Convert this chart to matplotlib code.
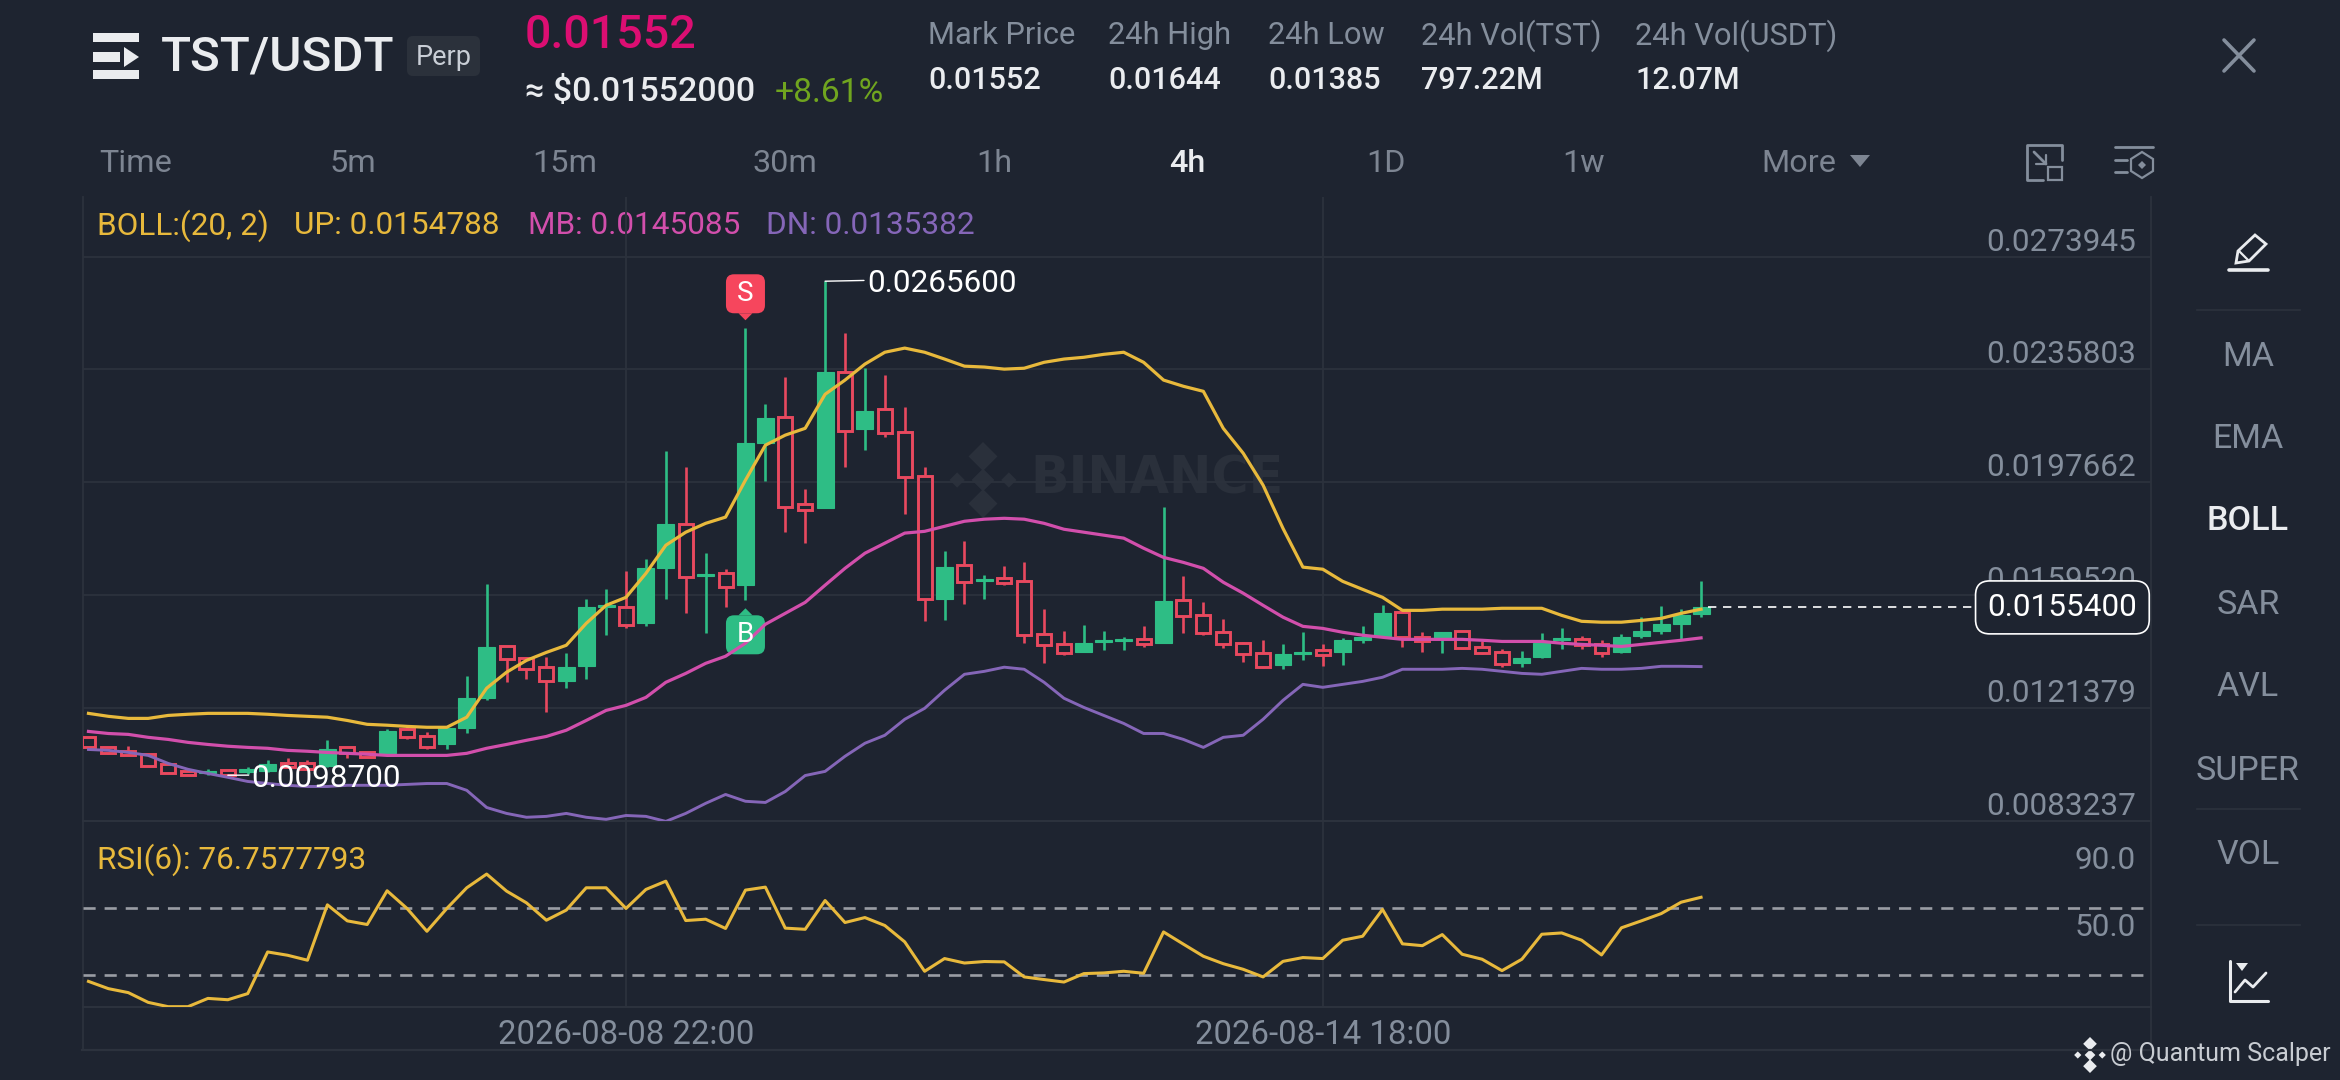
import numpy as np
import matplotlib
matplotlib.use("Agg")
import matplotlib.pyplot as plt
from matplotlib.patches import FancyBboxPatch, Polygon, Rectangle
from matplotlib.transforms import ScaledTranslation

plt.rcParams['font.family'] = ['Roboto', 'DejaVu Sans']

# prices are kept in units of 0.00001 USDT
PRICE_UNIT = 1e-5

opens = [1115, 1081, 1068, 1058, 1024, 1000, 993, 1003, 997, 1000,
         1027, 1027, 1017, 1081, 1064, 1061, 1142, 1118, 1091, 1145,
         1247, 1422, 1382, 1352, 1304, 1355, 1554, 1554, 1500, 1686,
         1835, 1659, 1669, 1629, 2109, 2197, 1902, 1889, 2349, 2156,
         2224, 2146, 1997, 1581, 1696, 1642, 1652, 1642, 1463, 1429,
         1402, 1436, 1440, 1446, 1433, 1578, 1527, 1470, 1433, 1399,
         1358, 1396, 1409, 1402, 1443, 1456, 1537, 1453, 1450, 1473,
         1419, 1402, 1365, 1385, 1443, 1446, 1429, 1402, 1456, 1473,
         1497, 1531]
closes = [1081, 1061, 1054, 1017, 993, 988, 1000, 987, 1007, 1024,
          1014, 1007, 1074, 1061, 1047, 1135, 1115, 1084, 1145, 1247,
          1419, 1379, 1345, 1304, 1352, 1554, 1561, 1494, 1686, 1835,
          1656, 1666, 1622, 2109, 2193, 1892, 1882, 2349, 2149, 2217,
          2142, 1994, 1581, 1690, 1639, 1649, 1635, 1460, 1426, 1399,
          1433, 1443, 1446, 1429, 1575, 1524, 1466, 1429, 1396, 1352,
          1396, 1402, 1392, 1443, 1453, 1534, 1453, 1440, 1470, 1416,
          1399, 1362, 1382, 1433, 1450, 1426, 1399, 1453, 1473, 1497,
          1527, 1554]
highs = [1115, 1081, 1085, 1058, 1024, 1000, 1007, 1003, 1014, 1037,
         1044, 1037, 1105, 1081, 1064, 1142, 1152, 1132, 1149, 1321,
         1632, 1422, 1385, 1385, 1399, 1581, 1615, 1676, 1717, 2082,
         2028, 1737, 1683, 2497, 2240, 2332, 1953, 2656, 2480, 2362,
         2338, 2230, 2028, 1744, 1777, 1663, 1693, 1706, 1548, 1473,
         1494, 1473, 1453, 1490, 1892, 1659, 1571, 1514, 1436, 1443,
         1429, 1470, 1429, 1450, 1490, 1561, 1537, 1470, 1470, 1473,
         1439, 1412, 1406, 1466, 1483, 1456, 1443, 1463, 1521, 1558,
         1548, 1642]
lows = [1078, 1058, 1054, 1017, 993, 988, 988, 987, 990, 997,
        1010, 1003, 1014, 1044, 1047, 1061, 1108, 1074, 1074, 1128,
        1240, 1301, 1311, 1199, 1281, 1311, 1460, 1483, 1490, 1581,
        1534, 1466, 1554, 1578, 1980, 1808, 1771, 1889, 2028, 2085,
        2129, 1869, 1507, 1510, 1564, 1581, 1629, 1433, 1365, 1392,
        1402, 1409, 1409, 1419, 1433, 1466, 1460, 1416, 1368, 1348,
        1345, 1375, 1355, 1358, 1433, 1453, 1419, 1402, 1399, 1412,
        1395, 1352, 1352, 1382, 1412, 1412, 1385, 1399, 1450, 1463,
        1446, 1521]

boll_up = [1196, 1186, 1179, 1179, 1189, 1193, 1196, 1196, 1196, 1193,
           1189, 1186, 1183, 1172, 1159, 1156, 1152, 1149, 1149, 1183,
           1281, 1335, 1375, 1402, 1426, 1500, 1561, 1588, 1669, 1764,
           1808, 1838, 1859, 1984, 2102, 2136, 2159, 2274, 2322, 2376,
           2416, 2430, 2416, 2393, 2369, 2366, 2359, 2362, 2382, 2393,
           2399, 2409, 2416, 2382, 2322, 2301, 2284, 2159, 2075, 1967,
           1821, 1690, 1683, 1642, 1615, 1588, 1544, 1544, 1548, 1548,
           1548, 1551, 1551, 1551, 1527, 1507, 1504, 1504, 1510, 1517,
           1534, 1548]
boll_mb = [1135, 1128, 1125, 1115, 1108, 1098, 1091, 1085, 1081, 1078,
           1071, 1068, 1064, 1061, 1058, 1054, 1054, 1054, 1054, 1061,
           1078, 1091, 1105, 1118, 1139, 1172, 1206, 1223, 1250, 1301,
           1331, 1365, 1389, 1433, 1497, 1534, 1571, 1629, 1686, 1737,
           1771, 1805, 1811, 1828, 1845, 1852, 1855, 1852, 1838, 1818,
           1808, 1798, 1788, 1754, 1723, 1706, 1686, 1639, 1602, 1561,
           1521, 1490, 1483, 1470, 1460, 1453, 1446, 1446, 1446, 1446,
           1443, 1439, 1439, 1439, 1433, 1429, 1426, 1422, 1429, 1436,
           1443, 1451]
boll_dn = [1074, 1071, 1064, 1054, 1027, 1007, 993, 980, 966, 959,
           953, 949, 949, 953, 953, 953, 956, 959, 959, 936,
           878, 858, 845, 848, 858, 845, 838, 851, 848, 831,
           858, 892, 922, 899, 895, 932, 986, 1000, 1051, 1095,
           1122, 1176, 1213, 1274, 1328, 1338, 1352, 1345, 1301, 1247,
           1216, 1189, 1162, 1128, 1128, 1108, 1081, 1115, 1122, 1176,
           1240, 1294, 1284, 1294, 1304, 1318, 1345, 1345, 1345, 1348,
           1345, 1338, 1331, 1328, 1338, 1348, 1345, 1345, 1348, 1355,
           1355, 1354]
rsi = [25.9, 21.5, 19.1, 13.2, 10.6, 10.6, 15.6, 14.8, 18.5, 43.7,
       41.7, 38.7, 72.2, 62.5, 60.3, 80.7, 70.0, 56.2, 70.0, 82.5,
       90.8, 80.5, 73.4, 62.9, 69.0, 82.5, 82.5, 70.0, 81.5, 86.5,
       62.7, 63.5, 57.9, 81.1, 82.9, 58.1, 57.4, 74.8, 61.5, 64.5,
       59.7, 49.8, 32.0, 39.7, 37.0, 37.9, 37.7, 28.6, 27.0, 25.5,
       30.6, 31.0, 32.0, 30.8, 55.8, 48.4, 41.1, 36.6, 33.2, 28.6,
       38.0, 40.3, 39.7, 50.8, 53.2, 69.4, 48.6, 47.5, 54.2, 42.3,
       39.3, 32.4, 39.3, 54.4, 55.2, 50.8, 41.9, 58.3, 62.5, 66.9,
       73.8, 76.76]

price_ticks = [0.0273945, 0.0235803, 0.0197662, 0.0159520, 0.0121379, 0.0083237]
rsi_ticks = [90.0, 50.0]
rsi_levels = [70, 30]
time_tick_idx = [27, 62]
time_tick_labels = ['2026-08-08 22:00', '2026-08-14 18:00']
high_idx, low_idx = 37, 7
signal_idx = 33

tabs = ['Time', '5m', '15m', '30m', '1h', '4h', '1D', '1w', 'More']
stat_names = ['Mark Price', '24h High', '24h Low', '24h Vol(TST)', '24h Vol(USDT)']
stat_values = ['0.01552', '0.01644', '0.01385', '797.22M', '12.07M']
side_items = ['MA', 'EMA', 'BOLL', 'SAR', 'AVL', 'SUPER', 'VOL']

BG = '#1e2430'
GRID = '#2c323d'
GREY = '#848e9c'
WHITE = '#eaecef'
GREEN = '#2ebd85'
RED = '#e8495f'
YELLOW = '#e8b93c'
PINK = '#d24fac'
PURPLE = '#8566b8'
AXIS_FONT = 22.7

W, H = 2340, 1080
fig = plt.figure(figsize=(W / 100, H / 100), dpi=100, facecolor=BG)


def px_axes(x0, y0, x1, y1):
    """Axes from pixel bounds, y counted from the top of the picture"""
    return fig.add_axes([x0 / W, 1 - y1 / H, (x1 - x0) / W, (y1 - y0) / H])


# the layer under the charts holds the app chrome, in pixel coordinates
ui = px_axes(0, 0, W, H)
ui.set_xlim(0, W)
ui.set_ylim(H, 0)
ui.axis('off')
ui.set_zorder(0)


def label(x, y, s, size=AXIS_FONT, color=GREY, ha='left', weight='normal', **kw):
    return ui.text(x, y + 2.5, s, fontsize=size, color=color, ha=ha, va='center', fontweight=weight, **kw)


def stroke(xs, ys, color=GREY, lw=2.2, **kw):
    ui.plot(xs, ys, color=color, lw=lw, solid_capstyle='round', **kw)


def bn_logo(cx, cy, r, color):
    for dx, dy, s in [(0, 0, .3), (-.68, 0, .2), (.68, 0, .2), (0, -.62, .38), (0, .62, .38)]:
        size = r * s
        x, y = cx + dx * r, cy + dy * r
        ui.add_patch(Polygon([(x - size, y), (x, y - size), (x + size, y), (x, y + size)],
                             closed=True, fc=color, ec='none'))


# header
for y0, y1, x1 in [(33, 42, 139), (52, 62, 120), (70, 79, 139)]:
    ui.add_patch(Rectangle((93, y0), x1 - 93, y1 - y0, fc=WHITE, ec='none'))
ui.add_patch(Polygon([(124, 47), (139, 57), (124, 67)], closed=True, fc=WHITE, ec='none'))
label(161, 55, 'TST/USDT', size=35.6, color=WHITE, weight='medium')
ui.add_patch(FancyBboxPatch((407, 36), 73, 40, boxstyle='round,pad=0,rounding_size=6', fc='#2b313b', ec='none'))
label(443.5, 55, 'Perp', size=19.5, color='#c9ced6', ha='center')
label(525, 32, '0.01552', size=33.5, color='#dc0e72', weight='medium')
label(525, 90, '≈ $0.01552000', size=24.5, color=WHITE, weight='medium')
label(775, 90, '+8.61%', size=24.2, color='#70a51f')

for x, name, value in zip([928, 1108, 1268, 1421, 1635], stat_names, stat_values):
    label(x, 33, name, size=22.2)
    label(x, 78, value, size=22, color=WHITE, weight='medium')

for x, tab in zip([136, 353, 565, 785, 994, 1187, 1386, 1584, 1799], tabs):
    active = tab == '4h'
    label(x, 161, tab, size=23.3, ha='center', color=WHITE if active else '#7d8592',
          weight='medium' if active else 'normal')
ui.add_patch(Polygon([(1850, 155), (1870, 155), (1860, 167)], closed=True, fc='#7d8592', ec='none'))

# chart frame lines that run down through the time strip
for x in [82.5, 2151]:
    ui.plot([x, x], [197, 1050], color=GRID, lw=1.3)
ui.plot([82, 2151], [1050, 1050], color=GRID, lw=1.6)

label(97, 223, 'BOLL:(20, 2)', color=YELLOW)
label(294, 223, 'UP: 0.0154788', color=YELLOW)
label(528, 223, 'MB: 0.0145085', color=PINK)
label(766, 223, 'DN: 0.0135382', color=PURPLE)
label(97, 857, 'RSI(6): 76.7577793', color=YELLOW)

# faint watermark
ui.text(1030, 480, 'BINANCE', fontsize=36.5, fontweight='bold', color='#2a303b',
        family='DejaVu Sans', va='center', ha='left')
bn_logo(983, 480, 38, '#2a303b')

# close button and the two small toolbar icons
stroke([2224, 2254], [40, 71], lw=2.6)
stroke([2254, 2224], [40, 71], lw=2.6)
stroke([2043, 2027, 2027, 2062, 2062], [180, 180, 145, 145, 160], lw=2)
ui.add_patch(Rectangle((2048, 167), 14, 13, fc='none', ec=GREY, lw=1.6))
stroke([2034, 2046], [152, 164], lw=2)
stroke([2036, 2046, 2046], [164, 164, 155], lw=1.6)
stroke([2115, 2153], [147, 147], lw=2)
stroke([2115, 2127], [160, 160], lw=2)
stroke([2115, 2127], [172, 172], lw=2)
ui.add_patch(Polygon([(2142, 152), (2153, 159), (2153, 171), (2142, 178), (2131, 171), (2131, 159)],
                     closed=True, fc='none', ec=GREY, lw=1.6))
ui.add_patch(Polygon([(2142, 161), (2146, 165), (2142, 169), (2138, 165)], closed=True, fc=GREY, ec='none'))

# side panel
stroke([2229, 2268], [270, 270], color=WHITE, lw=2.6)
ui.add_patch(Polygon([(2236, 263), (2238, 251), (2255, 235), (2266, 244), (2249, 261)],
                     closed=True, fc='none', ec=WHITE, lw=2))
stroke([2239, 2248], [251, 260], color=WHITE, lw=1.6)
for y, item in zip([354, 437, 519, 602, 685, 769, 852], side_items):
    active = item == 'BOLL'
    label(2248, y, item, size=24.5, ha='center', color=WHITE if active else GREY,
          weight='medium' if active else 'normal')
for y in [310, 809, 925]:
    ui.plot([2197, 2300], [y, y], color=GRID, lw=1.2)
stroke([2230, 2230, 2268], [961, 1001, 1001], color=WHITE, lw=2.2)
stroke([2235, 2245, 2253, 2266], [992, 980, 987, 973], color=WHITE, lw=2)
ui.add_patch(Polygon([(2236, 963), (2248, 963), (2242, 971)], closed=True, fc=WHITE, ec='none'))

# footer credit
bn_logo(2090, 1055, 18, WHITE)
label(2110, 1052, '@ Quantum Scalper', size=18, color='#c8ccd2')

# price chart
idx = np.arange(len(closes))
o = np.array(opens) * PRICE_UNIT
c = np.array(closes) * PRICE_UNIT
h = np.array(highs) * PRICE_UNIT
l = np.array(lows) * PRICE_UNIT
rising = c >= o
body_top = np.maximum(o, c)
body_bottom = np.minimum(o, c)

x_range = (-0.3, 103.6)

ax = px_axes(82.5, 197, 2151, 821)
ax.set_xlim(*x_range)
ax.set_ylim(0.0083237, 0.029405)
ax.set_zorder(1)
ax.patch.set_alpha(0)
ax.set_axisbelow(True)
ax.grid(True, color=GRID, lw=1.3)
for name in ['top', 'left', 'right']:
    ax.spines[name].set_visible(False)
ax.spines['bottom'].set_color(GRID)
ax.spines['bottom'].set_linewidth(1.5)
ax.set_xticks(time_tick_idx)
ax.set_yticks(price_ticks)
ax.set_yticklabels(['%.7f' % t for t in price_ticks])
ax.tick_params(axis='x', length=0, labelbottom=False)
ax.tick_params(axis='y', length=0, labelleft=False, labelright=True, pad=-11, labelsize=AXIS_FONT, labelcolor=GREY)
for tick in ax.get_yticklabels():
    tick.set_ha('right')
    tick.set_va('bottom')

ax.vlines(idx[rising], h[rising], body_top[rising], color=GREEN, lw=1.9, zorder=2)
ax.vlines(idx[rising], body_bottom[rising], l[rising], color=GREEN, lw=1.9, zorder=2)
ax.vlines(idx[~rising], h[~rising], body_top[~rising], color=RED, lw=1.9, zorder=2)
ax.vlines(idx[~rising], body_bottom[~rising], l[~rising], color=RED, lw=1.9, zorder=2)
ax.bar(idx[rising], (c - o)[rising], bottom=o[rising], width=0.85, color=GREEN, edgecolor=GREEN, lw=0.8, zorder=3)
ax.bar(idx[~rising], (o - c)[~rising], bottom=c[~rising], width=0.7, facecolor='none', edgecolor=RED, lw=2.1, zorder=3)

for series, color, lw in [(boll_up, YELLOW, 2.3), (boll_mb, PINK, 2.3), (boll_dn, PURPLE, 2.1)]:
    ax.plot(idx, np.array(series) * PRICE_UNIT, color=color, lw=lw, zorder=5, solid_joinstyle='round')


def signal_tag(idx_at, price, letter, color, sign):
    # drawn in inches around the candle end, so it stays tied to the data
    trans = fig.dpi_scale_trans + ScaledTranslation(idx_at, price, ax.transData)
    near, far = 0.15, 0.54
    y0 = near if sign > 0 else -far
    ax.add_patch(FancyBboxPatch((-0.195, y0), 0.39, far - near, boxstyle='round,pad=0,rounding_size=0.08',
                                fc=color, ec='none', transform=trans, zorder=4))
    ax.add_patch(Polygon([(-0.07, sign * near), (0, sign * 0.08), (0.07, sign * near)], closed=True,
                         fc=color, ec='none', transform=trans, zorder=4))
    ax.text(0, sign * (near + far) / 2, letter, color='white', fontsize=20, ha='center', va='center',
            transform=trans, zorder=6)


signal_tag(signal_idx, h[signal_idx], 'S', '#f6465d', 1)
signal_tag(signal_idx, l[signal_idx], 'B', GREEN, -1)

ax.annotate('%.7f' % h[high_idx], xy=(high_idx, h[high_idx]), xytext=(30, -1.5), textcoords='offset points',
            color='white', fontsize=AXIS_FONT, va='center', zorder=7,
            arrowprops=dict(arrowstyle='-', color='white', lw=1, shrinkA=0, shrinkB=0, relpos=(0, 0.6)))
ax.annotate('%.7f' % l[low_idx], xy=(low_idx, l[low_idx]), xytext=(17, -2), textcoords='offset points',
            color='white', fontsize=AXIS_FONT, va='center', zorder=7,
            arrowprops=dict(arrowstyle='-', color='white', lw=1, shrinkA=0, shrinkB=0, relpos=(0, 0.6)))

# last price line and its tag
last = c[-1]
ax.plot([idx[-1] + 0.35, 94.7], [last, last], color='white', lw=1.2, dashes=(5, 4), zorder=5)
ax.text(99.15, last, '%.7f' % last, color='white', fontsize=AXIS_FONT, ha='center', va='center', zorder=8,
        bbox=dict(boxstyle='round,pad=0.38,rounding_size=0.45', fc=BG, ec='white', lw=1.2))

# RSI panel
ax2 = px_axes(82.5, 821, 2151, 1007)
ax2.set_xlim(*x_range)
ax2.set_ylim(10.4, 122.9)
ax2.set_zorder(1)
ax2.patch.set_alpha(0)
ax2.set_axisbelow(True)
ax2.grid(True, axis='x', color=GRID, lw=1.3)
for name in ['top', 'left', 'right']:
    ax2.spines[name].set_visible(False)
ax2.spines['bottom'].set_color(GRID)
ax2.spines['bottom'].set_linewidth(1.5)
ax2.set_xticks(time_tick_idx)
ax2.set_xticklabels(time_tick_labels)
ax2.set_yticks(rsi_ticks)
ax2.set_yticklabels(['%.1f' % t for t in rsi_ticks])
ax2.tick_params(axis='x', length=0, pad=8.5, labelsize=23.7, labelcolor=GREY)
ax2.tick_params(axis='y', length=0, labelleft=False, labelright=True, pad=-11, labelsize=AXIS_FONT, labelcolor=GREY)
for tick in ax2.get_yticklabels():
    tick.set_ha('right')
    tick.set_va('bottom')
for level in rsi_levels:
    ax2.plot([x_range[0], 103.2], [level, level], color='#9a9da4', lw=1.9, dashes=(4.6, 3.4), zorder=2)
ax2.plot(idx, rsi, color=YELLOW, lw=2.2, zorder=3, solid_joinstyle='round')

fig.savefig('out.png', dpi=100, facecolor=BG)
